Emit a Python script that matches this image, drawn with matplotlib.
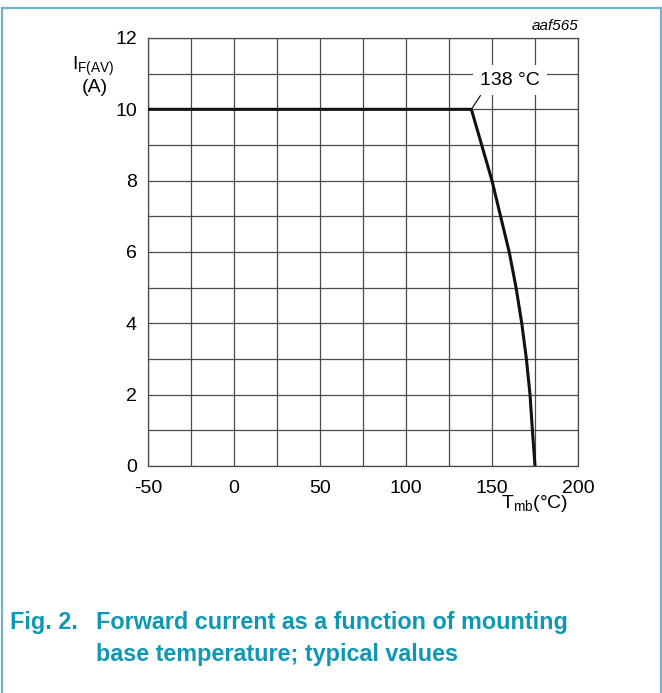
import matplotlib.pyplot as plt
from matplotlib.lines import Line2D

plt.rcParams['font.family'] = ['Liberation Sans', 'DejaVu Sans']
plt.rcParams['axes.unicode_minus'] = False

# derating curve
t_mb = [-50, 138, 144, 150, 155, 160, 164, 167.3, 170, 172.1, 173.5, 175]
i_fav = [10, 10, 9, 8, 7, 6, 5, 4, 3, 2, 1, 0]

x_ticks = [-50, 0, 50, 100, 150, 200]
y_ticks = [0, 2, 4, 6, 8, 10, 12]
knee_label = "138 °C"
fig_code = "aaf565"
caption_no = "Fig. 2."
caption_lines = ["Forward current as a function of mounting",
                 "base temperature; typical values"]

teal = '#0f98b3'
frame = '#6fb5c8'
grid_c = '#4a4a4a'
fs = 14

W, H = 662, 693
fig = plt.figure(figsize=(W / 100, H / 100), dpi=100)
ax = fig.add_axes([148 / W, 1 - 466 / H, 430 / W, 428 / H])

ax.set_xlim(-50, 200)
ax.set_ylim(0, 12)
ax.set_xticks(x_ticks)
ax.set_yticks(y_ticks)
ax.set_xticks(range(-50, 201, 25), minor=True)
ax.set_yticks(range(0, 13), minor=True)
ax.tick_params(which='both', length=0, labelsize=fs, colors='black')
ax.tick_params(axis='x', pad=10)
ax.tick_params(axis='y', pad=8)
ax.grid(which='both', color=grid_c, linewidth=0.9)
ax.set_axisbelow(True)
for s in ax.spines.values():
    s.set_color(grid_c)
    s.set_linewidth(0.9)

ax.plot(t_mb, i_fav, color='#111111', linewidth=2.2, solid_capstyle='butt', zorder=3)

# knee annotation
ax.annotate(knee_label, xy=(t_mb[1], i_fav[1]), xytext=(160.5, 10.82),
            fontsize=fs, ha='center', va='center', zorder=4,
            bbox=dict(boxstyle='square,pad=0.35', fc='white', ec='none'),
            arrowprops=dict(arrowstyle='-', color='black', lw=0.8,
                            shrinkA=0, shrinkB=0,
                            relpos=(0.08, 0.0)))

ax.text(1.0, 1.012, fig_code, transform=ax.transAxes, ha='right', va='bottom',
        fontsize=11, style='italic')

fig.text(93 / W, 1 - 66 / H, r'I$_{\mathregular{F(AV)}}$', ha='center', va='center',
         fontsize=fs)
fig.text(95 / W, 1 - 88 / H, '(A)', ha='center', va='center', fontsize=fs)
fig.text(535 / W, 1 - 503 / H, r'T$_{\mathregular{mb}}$(°C)', ha='center',
         va='center', fontsize=fs)

fig.text(10 / W, 1 - 622 / H, caption_no, ha='left', va='center', fontsize=16.8,
         fontweight='bold', color=teal)
fig.text(96 / W, 1 - 622 / H, caption_lines[0], ha='left', va='center',
         fontsize=16.8, fontweight='bold', color=teal)
fig.text(96 / W, 1 - 655 / H, caption_lines[1], ha='left', va='center',
         fontsize=16.8, fontweight='bold', color=teal)

# outer frame, open at the bottom
top = 1 - 8 / H
fig.add_artist(Line2D([2 / W, 660.5 / W], [top, top], color=frame, lw=1.6,
                      transform=fig.transFigure))
fig.add_artist(Line2D([2 / W, 2 / W], [top, 0], color=frame, lw=1.6,
                      transform=fig.transFigure))
fig.add_artist(Line2D([660.5 / W, 660.5 / W], [top, 0], color=frame, lw=1.6,
                      transform=fig.transFigure))

fig.savefig('out.png', dpi=100)
